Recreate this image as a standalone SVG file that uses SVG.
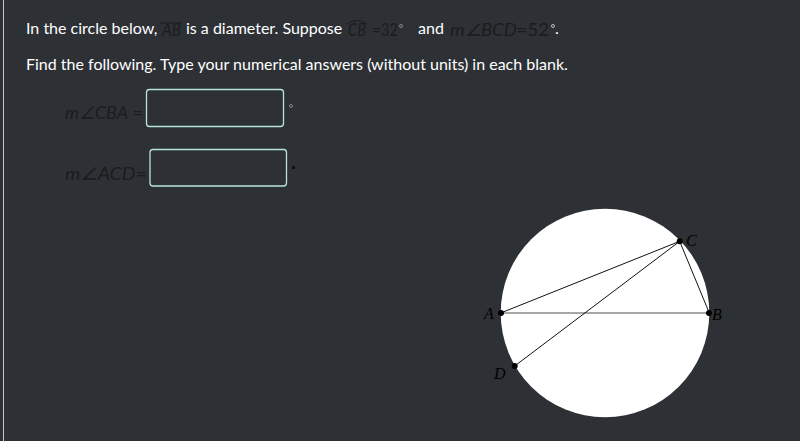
<svg xmlns="http://www.w3.org/2000/svg" width="800" height="441" viewBox="0 0 800 441">
<style>
.t{font-family:Lato,"Open Sans","Liberation Sans",sans-serif;font-size:16px;fill:#ffffff}
.m{font-family:Lato,"Open Sans","Liberation Sans",sans-serif;font-size:17px;fill:#1a1c1e;font-style:italic}
.mn{font-family:Lato,"Open Sans","Liberation Sans",sans-serif;font-size:17px;fill:#1a1c1e}
.lbl{font-family:"Liberation Serif","Times New Roman",serif;font-size:16px;font-style:italic;fill:#000}
.box{fill:#2d3135;stroke:#b9e4db;stroke-width:1.3}
.seg{stroke:#111;stroke-width:1;fill:none}
.pt{fill:#000}
</style>
<rect width="800" height="441" fill="#2d3135"/>
<line x1="3.5" y1="0" x2="3.5" y2="441" stroke="#c8c8c8" stroke-width="1"/>
<g id="question">
<text class="t" x="26" y="34">In the circle below,</text>
<text class="m" x="162" y="36" textLength="19" lengthAdjust="spacingAndGlyphs">AB</text>
<line x1="160" y1="23" x2="182" y2="23" stroke="#1a1c1e" stroke-width="1"/>
<text class="t" x="186" y="34">is a diameter. Suppose</text>
<text class="m" x="348" y="36" textLength="18" lengthAdjust="spacingAndGlyphs">CB</text>
<path d="M347 24 Q357 17 367 24" stroke="#1a1c1e" stroke-width="1" fill="none"/>
<text class="mn" x="372" y="36" textLength="26" lengthAdjust="spacingAndGlyphs">=32</text>
<circle cx="401" cy="26" r="1.5" fill="none" stroke="#8a8d90" stroke-width="0.9"/>
<text class="t" x="418" y="34">and</text>
<text class="m" x="450" y="36" textLength="99" lengthAdjust="spacingAndGlyphs">m∠BCD<tspan font-style="normal">=52</tspan></text>
<circle cx="553" cy="26" r="1.5" fill="none" stroke="#c8c8c8" stroke-width="0.9"/>
<text class="t" x="555" y="34">.</text>
<text class="t" x="26" y="70">Find the following. Type your numerical answers (without units) in each blank.</text>
</g>
<g id="answer1">
<text class="m" x="65" y="119" textLength="78" lengthAdjust="spacingAndGlyphs">m∠CBA<tspan font-style="normal"> =</tspan></text>
<rect class="box" x="146.5" y="89.5" width="137" height="37" rx="3"/>
<circle cx="291" cy="106" r="1.5" fill="none" stroke="#8a8d90" stroke-width="0.9"/>
</g>
<g id="answer2">
<text class="m" x="65" y="180" textLength="82" lengthAdjust="spacingAndGlyphs">m∠ACD<tspan font-style="normal">=</tspan></text>
<rect class="box" x="150" y="149.5" width="136.5" height="36.5" rx="3"/>
<rect x="292" y="166" width="3" height="3" fill="#111"/>
</g>
<g id="circle">
<circle cx="605" cy="313" r="104.3" fill="#ffffff"/>
</g>
<g id="connectors">
<line x1="500.7" y1="313" x2="709.3" y2="313" stroke="#8a8a8a" stroke-width="1.5"/>
<line class="seg" x1="500.7" y1="313" x2="679.7" y2="241.3"/>
<line class="seg" x1="514.7" y1="366" x2="679.7" y2="241.3"/>
<line class="seg" x1="709.3" y1="313" x2="679.7" y2="241.3"/>
</g>
<g id="pointA"><circle class="pt" cx="501" cy="313" r="3"/><text class="lbl" x="484" y="319">A</text></g>
<g id="pointB"><circle class="pt" cx="709" cy="313" r="3"/><text class="lbl" x="712" y="320">B</text></g>
<g id="pointC"><circle class="pt" cx="679.7" cy="241.3" r="3"/><text class="lbl" x="686" y="246">C</text></g>
<g id="pointD"><circle class="pt" cx="514.7" cy="366" r="3"/><text class="lbl" x="494" y="379">D</text></g>
</svg>
